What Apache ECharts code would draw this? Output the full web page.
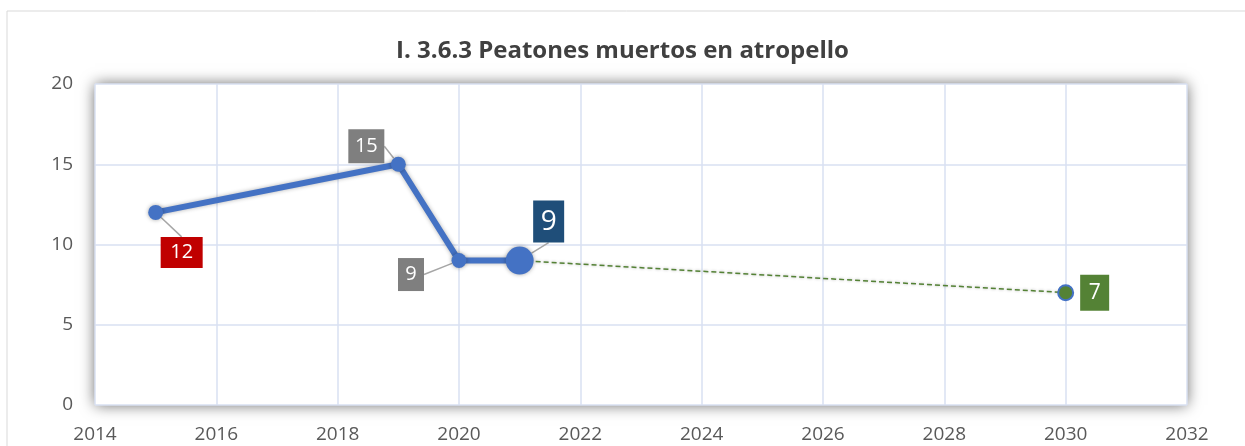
<!DOCTYPE html>
<html>
<head>
<meta charset="utf-8">
<script src="https://cdn.jsdelivr.net/npm/echarts@6/dist/echarts.min.js"></script>
<style>
html, body { margin: 0; padding: 0; background: #fff; }
#chart { width: 1245px; height: 446px; }
</style>
</head>
<body>
<div id="chart"></div>
<script>
var years = [2015, 2019, 2020, 2021];
var values = [12, 15, 9, 9];
var goalYears = [2021, 2030];
var goalValues = [9, 7];
var xTicks = [2014, 2032, 2];
var yTicks = [0, 20, 5];

window.onload = function() {
    setLine();
};

function setLine() {
    var ec = echarts.init(document.getElementById('chart'));
    var font = 'Open Sans';

    // label boxes: colour, font size, box size, offset from the point
    var boxes = [
        { bg: '#C00000', size: 20, w: 42, h: 31, dx: 26, dy: 40 },
        { bg: '#7F7F7F', size: 20, w: 36, h: 34, dx: -32, dy: -18 },
        { bg: '#7F7F7F', size: 20, w: 26, h: 33, dx: -48, dy: 14 },
        { bg: '#1F4E79', size: 28, w: 31, h: 42, dx: 29, dy: -39 }
    ];

    var mainData = years.map(function(y, i) {
        var b = boxes[i];
        return {
            value: [y, values[i]],
            label: {
                backgroundColor: b.bg,
                fontSize: b.size,
                width: b.w,
                height: b.h,
                lineHeight: b.h
            }
        };
    });

    var goalData = goalYears.map(function(y, i) {
        var item = { value: [y, goalValues[i]] };
        if (i === 0) {
            item.symbol = 'none';
            item.label = { show: false };
        }
        return item;
    });

    ec.setOption({
        title: {
            text: 'I. 3.6.3 Peatones muertos en atropello',
            left: 'center',
            top: 34,
            textStyle: {
                color: '#404040',
                fontSize: 24,
                fontWeight: 'bold',
                fontFamily: font
            }
        },
        graphic: [{
            type: 'rect',
            shape: { x: 7, y: 11, width: 1260, height: 460 },
            style: { fill: 'none', stroke: '#D9D9D9', lineWidth: 1 },
            silent: true
        }],
        grid: {
            left: 95,
            right: 58,
            top: 84,
            bottom: 41,
            show: true,
            backgroundColor: '#fff',
            borderWidth: 0,
            shadowColor: 'rgba(0,0,0,0.6)',
            shadowBlur: 14
        },
        xAxis: {
            type: 'value',
            min: xTicks[0],
            max: xTicks[1],
            interval: xTicks[2],
            axisLine: { show: false },
            axisTick: { show: false },
            splitLine: { lineStyle: { color: '#D9E1F2', width: 1.5 } },
            axisLabel: {
                color: '#595959',
                fontSize: 19,
                fontFamily: font,
                margin: 20,
                formatter: function(v) { return String(v); }
            }
        },
        yAxis: {
            type: 'value',
            min: yTicks[0],
            max: yTicks[1],
            interval: yTicks[2],
            axisLine: { show: false },
            axisTick: { show: false },
            splitLine: { lineStyle: { color: '#D9E1F2', width: 1.5 } },
            axisLabel: {
                color: '#595959',
                fontSize: 19,
                fontFamily: font,
                margin: 22
            }
        },
        series: [{
            type: 'line',
            z: 2,
            data: goalData,
            symbol: 'circle',
            symbolSize: 15,
            itemStyle: {
                color: '#548235',
                borderColor: '#4472C4',
                borderWidth: 2
            },
            lineStyle: {
                color: '#548235',
                width: 1.5,
                type: [5, 3],
                shadowColor: 'rgba(0,0,0,0.3)',
                shadowBlur: 3
            },
            label: {
                show: true,
                position: 'inside',
                color: '#fff',
                fontSize: 21,
                fontFamily: font,
                backgroundColor: '#548235',
                width: 29,
                height: 36,
                lineHeight: 36,
                align: 'center'
            },
            labelLayout: function(p) {
                return { dx: 29, dy: 0 };
            },
            animation: false
        }, {
            type: 'line',
            z: 3,
            data: mainData,
            symbol: 'circle',
            symbolSize: function(v, p) {
                return p.dataIndex === 3 ? 28 : 15;
            },
            itemStyle: {
                color: '#4472C4',
                shadowColor: 'rgba(0,0,0,0.35)',
                shadowBlur: 4
            },
            lineStyle: {
                color: '#4472C4',
                width: 6,
                shadowColor: 'rgba(0,0,0,0.3)',
                shadowBlur: 4
            },
            label: {
                show: true,
                position: 'inside',
                color: '#fff',
                fontFamily: font,
                align: 'center'
            },
            labelLine: {
                show: true,
                lineStyle: { color: '#A6A6A6', width: 1.5 }
            },
            labelLayout: function(p) {
                var b = boxes[p.dataIndex];
                return { dx: b.dx, dy: b.dy };
            },
            animation: false
        }]
    });
}
</script>
</body>
</html>
